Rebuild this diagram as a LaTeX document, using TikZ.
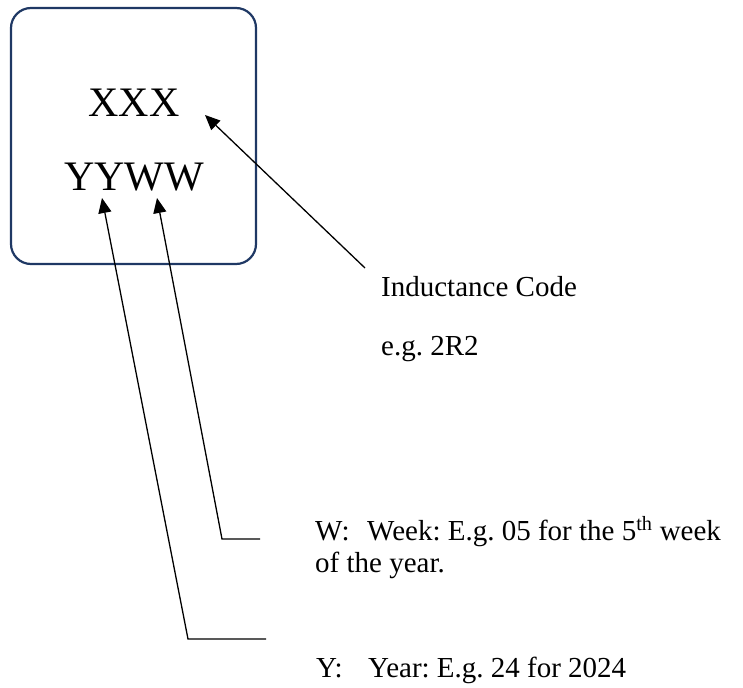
\documentclass[tikz,border=0pt]{standalone}
\usepackage{fontspec}
\setmainfont{Liberation Serif}
\usepackage{xcolor}
\usetikzlibrary{arrows.meta}
\definecolor{chipnavy}{HTML}{1F3864}
\tikzset{
	chipbox/.style={draw=chipnavy, line width=2.2pt, rounded corners=20pt, minimum width=245pt, minimum height=256pt, inner sep=0},
	marktext/.style={font=\fontsize{42}{48}\selectfont, inner sep=0, anchor=base},
	notetext/.style={font=\fontsize{29}{33}\selectfont, inner sep=0, anchor=base west},
	pointer/.style={line width=1.3pt, -{Triangle[length=15pt,width=13pt]}}
}
\newcommand{\tabbed}[1]{\makebox[52pt][l]{#1}}
\frenchspacing
\begin{document}
\begin{tikzpicture}[x=1pt,y=-1pt]
	\useasboundingbox (0,0) rectangle (743,687);
	% the part with its marking
	\node[chipbox] (chip) at (133.5,136) {};
	\node[marktext] (xxx) at (134,117) {XXX};
	\node[marktext] (yyww) at (134,190) {YYWW};
	% notes
	\node[notetext] (code) at (381,296) {Inductance Code};
	\node[notetext] (codeex) at (381,355) {e.g. 2R2};
	\node[notetext] (week) at (315,540) {\tabbed{W:}Week: E.g. 05 for the 5\textsuperscript{th} week};
	\node[notetext] (week2) at (315,572) {of the year.};
	\node[notetext] (year) at (316,677) {\tabbed{Y:}Year: E.g. 24 for 2024};
	% leader ends
	\coordinate (codetail) at (365,268);
	\coordinate (xxxtip) at (205,115);
	\coordinate (wend) at (260,539);
	\coordinate (wfoot) at (222,539);
	\coordinate (wtip) at (157,198);
	\coordinate (yend) at (266,639);
	\coordinate (yfoot) at (188,639);
	\coordinate (ytip) at (102,198);
	\draw[pointer] (codetail) -- (xxxtip);
	\draw[pointer] (wend) -- (wfoot) -- (wtip);
	\draw[pointer] (yend) -- (yfoot) -- (ytip);
\end{tikzpicture}
\end{document}
